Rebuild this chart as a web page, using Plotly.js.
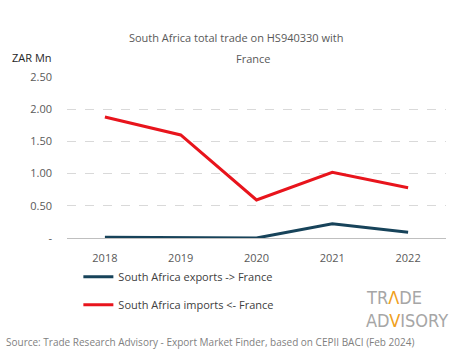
<!DOCTYPE html>
<html>
<head>
<meta charset="utf-8">
<script src="https://cdn.plot.ly/plotly-3.0.1.min.js"></script>
<style>html,body{margin:0;padding:0;background:#fff;}#chart{width:465px;height:359px;}</style>
</head>
<body>
<div id="chart"></div>
<script>
const years = ["2018", "2019", "2020", "2021", "2022"];
const exportsZAR = [0.01, 0.0, 0.0, 0.22, 0.09];
const importsZAR = [1.88, 1.60, 0.59, 1.02, 0.78];
const yTickVals = [0, 0.5, 1.0, 1.5, 2.0, 2.5];
const yTickText = ["-", "0.50", "1.00", "1.50", "2.00", "2.50"];
const exportsName = "South Africa exports -> France";
const importsName = "South Africa imports <- France";

const font = "Open Sans, sans-serif";
const traces = [
  {x: years, y: exportsZAR, name: exportsName, type: "scatter", mode: "lines",
   line: {color: "#17435a", width: 3}, legendgroup: "a"},
  {x: years, y: importsZAR, name: importsName, type: "scatter", mode: "lines",
   line: {color: "#e8141c", width: 3}, legendgroup: "b"}
];
const layout = {
  width: 465, height: 359,
  margin: {l: 67, r: 19, t: 77, b: 121},
  paper_bgcolor: "#fff", plot_bgcolor: "#fff",
  font: {family: font, size: 11, color: "#595959"},
  title: {text: "South Africa total trade on HS940330 with", x: 0.508, xanchor: "center",
          y: 1 - 38 / 359, yanchor: "middle", font: {family: font, size: 11, color: "#595959"}},
  xaxis: {type: "category", range: [-0.5, 4.5], showgrid: false, zeroline: false, showline: false,
          ticks: "", ticklabelstandoff: 12, tickfont: {size: 11, color: "#595959"}, fixedrange: true},
  yaxis: {range: [0, 2.5], tickvals: yTickVals, ticktext: yTickText, showgrid: true,
          gridcolor: "#d9d9d9", griddash: "dash", gridwidth: 1, zeroline: true, zerolinecolor: "#bfbfbf",
          zerolinewidth: 1, showline: false, ticks: "", ticklabelstandoff: 14,
          tickfont: {size: 11, color: "#595959"}, fixedrange: true},
  showlegend: true,
  legend: {x: 0.03, xanchor: "left", y: -0.15, yanchor: "top", orientation: "v",
           traceorder: "grouped", tracegroupgap: 9, font: {size: 11, color: "#404040"},
           itemwidth: 30, bgcolor: "rgba(0,0,0,0)"},
  annotations: [
    {text: "France", xref: "paper", yref: "paper", x: 0.49, y: (238 - 58) / 161, xanchor: "center", yanchor: "middle",
     showarrow: false, font: {size: 11, color: "#595959"}},
    {text: "ZAR Mn", xref: "paper", yref: "paper", x: -0.15, y: 1.12, xanchor: "left", yanchor: "middle",
     showarrow: false, font: {size: 11, color: "#262626"}},
    {text: "Source: Trade Research Advisory - Export Market Finder, based on CEPII BACI (Feb 2024)",
     xref: "paper", yref: "paper", x: -0.165, y: -0.645, xanchor: "left", yanchor: "middle",
     showarrow: false, font: {size: 10, color: "#7f7f7f"}},
    {text: "TR<span style='color:#f0a020'>Λ</span>DE", xref: "paper", yref: "paper", x: 0.784, y: (238 - 297) / 161,
     xanchor: "left", yanchor: "middle", showarrow: false,
     font: {family: "Liberation Sans Narrow, DejaVu Sans Condensed, sans-serif", size: 18, color: "#a6a6a6"}},
    {text: "AD<span style='color:#f0a020'>V</span>ISORY", xref: "paper", yref: "paper", x: 0.784, y: (238 - 320) / 161,
     xanchor: "left", yanchor: "middle", showarrow: false,
     font: {family: "Liberation Sans Narrow, DejaVu Sans Condensed, sans-serif", size: 18, color: "#a6a6a6"}}
  ]
};
Plotly.newPlot("chart", traces, layout, {displayModeBar: false, staticPlot: true});
</script>
</body>
</html>
